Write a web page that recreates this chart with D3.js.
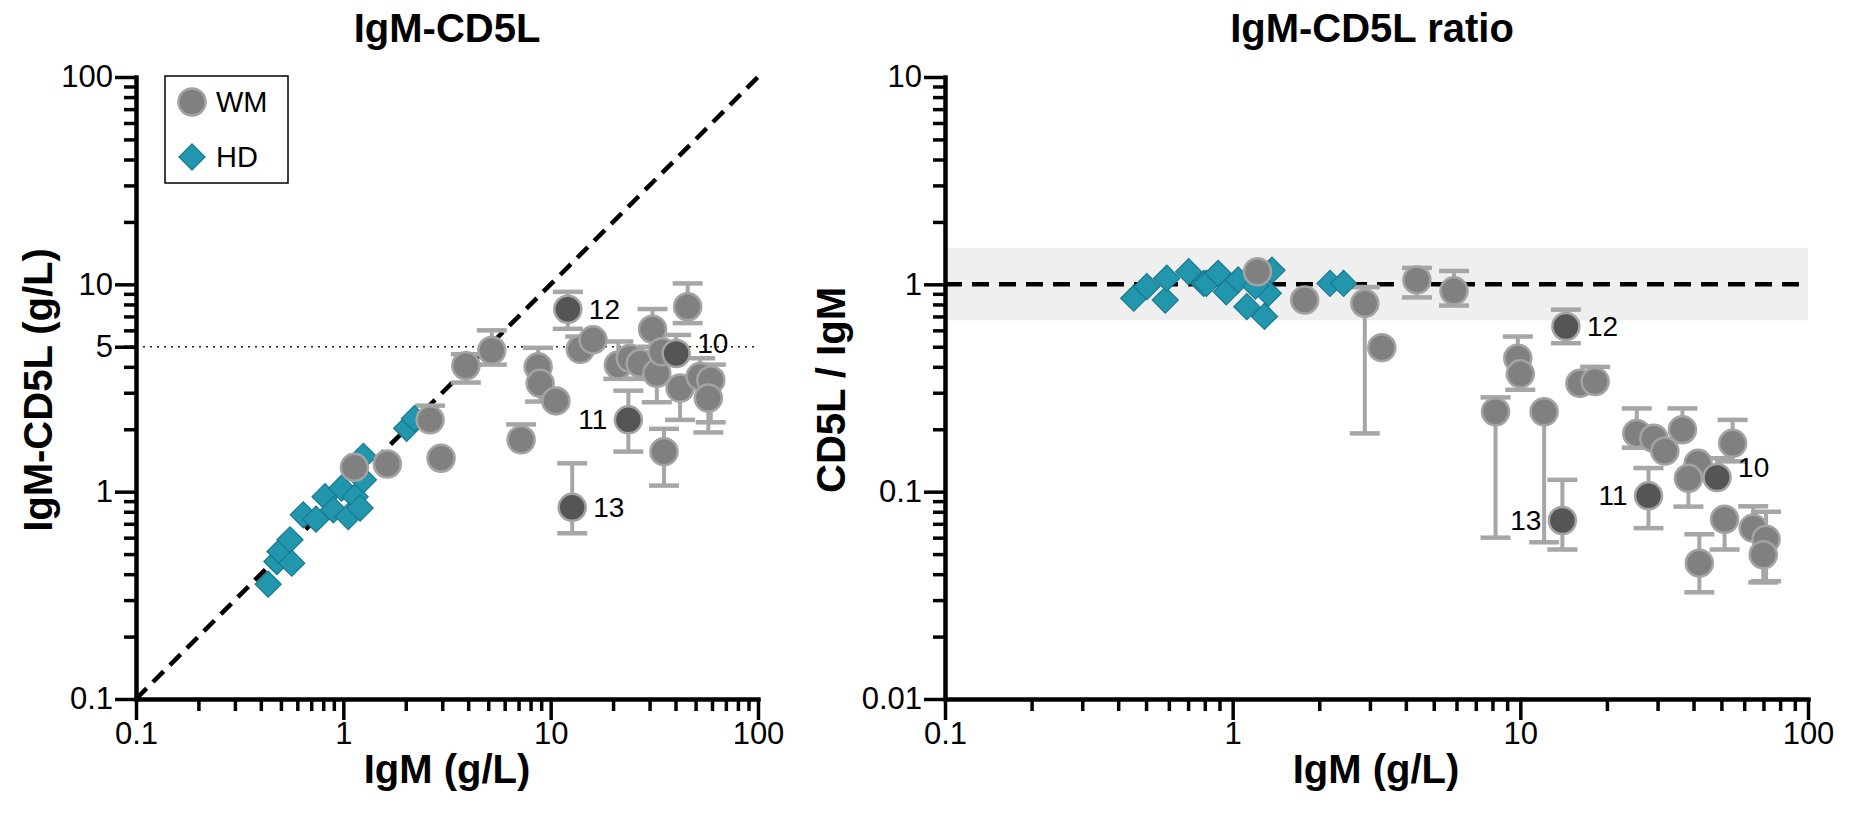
<!DOCTYPE html>
<html>
<head>
<meta charset="utf-8">
<script src="https://cdn.jsdelivr.net/npm/d3@7"></script>
<style>
  body { margin: 0; background: #fff; }
  text { font-family: "Liberation Sans", Arial, sans-serif; }
</style>
</head>
<body>
<script>
// ---- data ----
// left panel: IgM vs IgM-CD5L
const hdIgML = [0.434, 0.478, 0.495, 0.553, 0.564, 0.641, 0.738, 0.816, 0.895, 0.981, 1.056, 1.14, 1.205, 1.25, 1.25, 2.02, 2.2];
const hdCd5l = [0.358, 0.46, 0.514, 0.586, 0.452, 0.773, 0.737, 0.946, 0.816, 1.04, 0.759, 0.946, 0.834, 1.14, 1.48, 2.02, 2.25];

const wmIgML = [1.13, 1.63, 2.62, 2.96, 3.9, 5.2, 7.2, 8.7, 8.9, 10.6, 12.1, 12.7, 13.9, 16.0, 21.2, 24.2, 27.0, 31.0, 32.5, 34.4, 40.3, 42.1, 45.8, 52.6, 59.2, 57.6, 23.7, 35.2];
const wmCd5l = [1.31, 1.36, 2.22, 1.45, 4.05, 4.8, 1.78, 4.0, 3.33, 2.74, 7.58, 0.84, 4.86, 5.4, 4.08, 4.4, 4.16, 6.07, 3.72, 4.73, 4.64, 3.16, 7.8, 3.59, 3.46, 2.83, 2.22, 1.56];
const wmCd5lLo = [null, null, null, null, 3.36, 4.1, null, null, 2.72, null, 6.1, 0.63, null, null, 3.5, null, 3.5, 5.0, 2.7, null, null, 2.22, 6.5, null, 2.16, 1.93, 1.56, 1.07];
const wmCd5lHi = [null, null, 2.6, null, 4.6, 6.0, 2.11, 4.94, null, null, 9.2, 1.37, 5.6, null, 5.3, null, null, 7.6, null, null, 5.7, null, 10.1, 4.4, 4.1, null, 3.07, 2.01];
const wmTagL = ["", "", "", "", "", "", "", "", "", "", "12", "13", "", "", "", "", "", "", "", "", "10", "", "", "", "", "", "11", ""];

// right panel: IgM vs CD5L / IgM ratio
const hdIgMR = [0.453, 0.503, 0.583, 0.59, 0.703, 0.793, 0.81, 0.89, 0.95, 1.045, 1.12, 1.29, 1.33, 1.37, 1.20, 2.18, 2.43];
const hdRatio = [0.857, 0.975, 0.84, 1.07, 1.15, 1.01, 1.01, 1.13, 0.92, 1.05, 0.78, 0.70, 0.905, 1.17, 0.98, 1.01, 1.01];

const wmIgMR = [1.22, 1.78, 2.88, 3.3, 4.37, 5.88, 8.2, 9.8, 10.0, 12.1, 14.4, 14.0, 16.1, 18.2, 25.4, 29.1, 31.8, 36.6, 41.5, 38.4, 48.3, 54.7, 51.3, 64.5, 71.5, 69.9, 27.9, 41.9];
const wmRatio = [1.15, 0.84, 0.81, 0.495, 1.05, 0.93, 0.243, 0.44, 0.37, 0.243, 0.626, 0.0726, 0.333, 0.34, 0.191, 0.181, 0.157, 0.199, 0.137, 0.116, 0.117, 0.171, 0.0736, 0.0667, 0.059, 0.0496, 0.0955, 0.0452];
const wmRatioLo = [null, null, 0.191, null, 0.865, 0.79, 0.060, null, 0.31, 0.057, 0.52, 0.0526, null, null, 0.163, null, null, null, null, 0.0847, null, 0.14, 0.0526, null, 0.037, 0.0365, 0.0667, 0.0327];
const wmRatioHi = [null, null, 0.97, null, 1.2, 1.16, 0.285, 0.56, null, null, 0.755, 0.114, null, 0.40, 0.252, null, null, 0.252, null, null, 0.145, 0.222, null, 0.085, 0.08, null, 0.130, 0.0623];
const wmTagR = ["", "", "", "", "", "", "", "", "", "", "12", "13", "", "", "", "", "", "", "", "", "10", "", "", "", "", "", "11", ""];

// tag placement (which side of the point the number goes)
const tagSideL = { "10": "right", "11": "left", "12": "right", "13": "right" };
const tagSideR = { "10": "right", "11": "left", "12": "right", "13": "left" };

// axes
const xMajor = [0.1, 1, 10, 100];
const yMajorL = [0.1, 1, 5, 10, 100];
const yMajorR = [0.01, 0.1, 1, 10];
const refBand = [0.67, 1.5];

const W = 1873, H = 831;
const grey = '#808080', greyEdge = '#a3a3a3', dark = '#555555', teal = '#2196ad', tealEdge = '#187a8e', barCol = '#a6a6a6';

const svg = d3.select('body').append('svg')
    .attr('width', W)
    .attr('height', H);

function minorTicks(lo, hi) {
  const out = [];
  for (let e = Math.round(Math.log10(lo)); e < Math.round(Math.log10(hi)); e++) {
    for (let k = 2; k <= 9; k++) out.push(k * Math.pow(10, e));
  }
  return out;
}

function fmt(d) { return String(+d.toPrecision(3)); }

function drawAxes(g, x, y, yTicks) {
  const xd = x.domain(), yd = y.domain();
  const y0 = y.range()[0], x0 = x.range()[0];

  g.append('g').attr('transform', `translate(0,${y0})`)
    .call(d3.axisBottom(x).tickValues(minorTicks(xd[0], xd[1])).tickSize(12).tickSizeOuter(0).tickFormat(''));
  g.append('g').attr('transform', `translate(0,${y0})`)
    .call(d3.axisBottom(x).tickValues(xMajor).tickSize(21).tickSizeOuter(0).tickPadding(2).tickFormat(fmt));

  g.append('g').attr('transform', `translate(${x0},0)`)
    .call(d3.axisLeft(y).tickValues(minorTicks(yd[0], yd[1])).tickSize(12).tickSizeOuter(0).tickFormat(''));
  g.append('g').attr('transform', `translate(${x0},0)`)
    .call(d3.axisLeft(y).tickValues(yTicks).tickSize(21).tickSizeOuter(0).tickPadding(2).tickFormat(fmt));

  g.selectAll('.domain').attr('stroke', '#000').attr('stroke-width', 4).attr('stroke-linecap', 'square');
  g.selectAll('.tick line').attr('stroke', '#000').attr('stroke-width', 3.5);
  g.selectAll('.tick text').attr('fill', '#000').style('font-size', '31px')
    .style('font-family', '"Liberation Sans", Arial, sans-serif');
}

function drawPoints(g, x, y, hx, hy, wx, wy, lo, hi, tags, sides) {
  // error bars
  const bars = g.append('g');
  wx.forEach((v, i) => {
    const cx = x(v);
    [lo[i], hi[i]].forEach(e => {
      if (e == null) return;
      bars.append('line').attr('x1', cx).attr('x2', cx).attr('y1', y(wy[i])).attr('y2', y(e))
        .attr('stroke', barCol).attr('stroke-width', 4);
      bars.append('line').attr('x1', cx - 15).attr('x2', cx + 15).attr('y1', y(e)).attr('y2', y(e))
        .attr('stroke', barCol).attr('stroke-width', 4.5);
    });
  });

  // healthy donors
  g.append('g').selectAll('path')
    .data(hx.map((v, i) => [v, hy[i]]))
    .join('path')
      .attr('d', d3.symbol(d3.symbolSquare, 340))
      .attr('transform', d => `translate(${x(d[0])},${y(d[1])}) rotate(45)`)
      .attr('fill', teal)
      .attr('stroke', tealEdge)
      .attr('stroke-width', 1.2);

  // WM patients
  g.append('g').selectAll('circle')
    .data(wx.map((v, i) => ({ x: v, y: wy[i], tag: tags[i] })))
    .join('circle')
      .attr('cx', d => x(d.x))
      .attr('cy', d => y(d.y))
      .attr('r', 13.5)
      .attr('fill', d => d.tag ? dark : grey)
      .attr('stroke', greyEdge)
      .attr('stroke-width', 2.5);

  g.append('g').selectAll('text')
    .data(wx.map((v, i) => ({ x: v, y: wy[i], tag: tags[i] })).filter(d => d.tag))
    .join('text')
      .attr('x', d => x(d.x) + (sides[d.tag] === 'left' ? -21 : 21))
      .attr('y', d => y(d.y) + (d.tag === '10' ? -10 : 0))
      .attr('text-anchor', d => sides[d.tag] === 'left' ? 'end' : 'start')
      .attr('dominant-baseline', 'central')
      .style('font-size', '28px')
      .text(d => d.tag);
}

function boldText(g, x, y, rot, label) {
  g.append('text')
      .attr('transform', `translate(${x},${y})` + (rot ? ` rotate(${rot})` : ''))
      .attr('text-anchor', 'middle')
      .style('font-size', '40px').style('font-weight', 'bold')
      .text(label);
}

// ---------- left panel ----------
const xL = d3.scaleLog().domain([0.1, 100]).range([136, 758]);
const yL = d3.scaleLog().domain([0.1, 100]).range([699, 77]);
const gL = svg.append('g');

gL.append('line')
    .attr('x1', xL(0.1)).attr('y1', yL(5)).attr('x2', xL(100)).attr('y2', yL(5))
    .attr('stroke', '#222').attr('stroke-width', 1.6).attr('stroke-dasharray', '2,5');
gL.append('line')
    .attr('x1', xL(0.1)).attr('y1', yL(0.1)).attr('x2', xL(100)).attr('y2', yL(100))
    .attr('stroke', '#000').attr('stroke-width', 4.5).attr('stroke-dasharray', '15,9');

drawPoints(gL, xL, yL, hdIgML, hdCd5l, wmIgML, wmCd5l, wmCd5lLo, wmCd5lHi, wmTagL, tagSideL);
drawAxes(gL, xL, yL, yMajorL);

boldText(gL, 447, 42, 0, 'IgM-CD5L');
boldText(gL, 447, 783, 0, 'IgM (g/L)');
boldText(gL, 52, 390, -90, 'IgM-CD5L (g/L)');

// legend
const leg = gL.append('g');
leg.append('rect')
    .attr('x', 165).attr('y', 76).attr('width', 123).attr('height', 107)
    .attr('fill', '#fff').attr('stroke', '#000').attr('stroke-width', 1.5);
leg.append('circle')
    .attr('cx', 192).attr('cy', 102).attr('r', 13.5)
    .attr('fill', grey).attr('stroke', greyEdge).attr('stroke-width', 2.5);
leg.append('path')
    .attr('d', d3.symbol(d3.symbolSquare, 340))
    .attr('transform', 'translate(192,157) rotate(45)')
    .attr('fill', teal).attr('stroke', tealEdge).attr('stroke-width', 1.2);
leg.append('text').attr('x', 216).attr('y', 102).attr('dominant-baseline', 'central')
    .style('font-size', '29px').text('WM');
leg.append('text').attr('x', 216).attr('y', 157).attr('dominant-baseline', 'central')
    .style('font-size', '29px').text('HD');

// ---------- right panel ----------
const xR = d3.scaleLog().domain([0.1, 100]).range([945, 1808]);
const yR = d3.scaleLog().domain([0.01, 10]).range([699, 77]);
const gR = svg.append('g');

gR.append('rect')
    .attr('x', xR(0.1)).attr('y', yR(refBand[1]))
    .attr('width', xR(100) - xR(0.1)).attr('height', yR(refBand[0]) - yR(refBand[1]))
    .attr('fill', '#efefef');
gR.append('line')
    .attr('x1', xR(0.1)).attr('y1', yR(1)).attr('x2', xR(100)).attr('y2', yR(1))
    .attr('stroke', '#000').attr('stroke-width', 4.5).attr('stroke-dasharray', '17,10');

drawPoints(gR, xR, yR, hdIgMR, hdRatio, wmIgMR, wmRatio, wmRatioLo, wmRatioHi, wmTagR, tagSideR);
drawAxes(gR, xR, yR, yMajorR);

boldText(gR, 1372, 42, 0, 'IgM-CD5L ratio');
boldText(gR, 1376, 783, 0, 'IgM (g/L)');
boldText(gR, 845, 390, -90, 'CD5L / IgM');
</script>
</body>
</html>
